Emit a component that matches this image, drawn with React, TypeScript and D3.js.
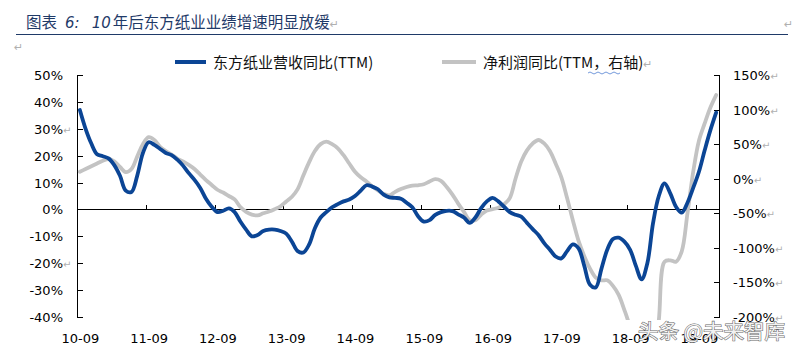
import React from 'react';
import * as d3 from 'd3';

// monthly, 2010-09 .. 2019-12
const revenueYoY = [
  37, 30, 24.5, 20.5, 19.8, 19, 16.5, 12.5, 7, 6.5, 12.5, 21,
  25, 24, 22.5, 21, 20.2, 18.5, 16.3, 13.5, 11, 8, 4, 1,
  -1, -0.5, 0.4, -1, -4.5, -7.5, -10, -9.5, -8, -7.5, -7.5, -8,
  -9, -12, -15.5, -16, -13, -7, -3, -1, 0.8, 2, 3, 3.7,
  5, 7, 9, 8.5, 7.5, 5.5, 4.5, 4.3, 4, 2.5, 0.8, -2.5,
  -4.5, -4, -2, -1, -0.5, -0.6, -1.8, -3, -5, -3, 0.5, 3,
  4.3, 3, 1, -1, -2, -2.7, -5, -7.3, -9.5, -12.5, -15, -17.5,
  -18.2, -15.5, -13, -14.5, -21, -28, -29, -22, -15, -11, -10.5, -12,
  -15, -21, -26, -20, -5, 5, 9.7, 6, 1, -1.2, 2.5, 8,
  14, 22, 29.5, 36,
];

const profitYoY = [
  10, 14, 18, 22, 26, 28.5, 25, 17, 9.5, 14, 32, 50,
  60, 56, 46, 40, 35, 29, 25, 20, 14, 6, -2, -9,
  -16, -20, -25, -30, -41, -48, -52, -53, -50, -47.5, -44, -40,
  -33, -26, -15, 5, 24, 40, 50, 53.5, 50, 44, 34, 22,
  10, 2, -4, -11, -17, -22, -24, -19, -15, -12, -10, -9.5,
  -8, -4, -0.5, -3, -12, -23, -36, -48, -60, -60, -52, -46,
  -44, -42, -37, -28, 0, 25, 41, 51, 56, 51, 40, 22,
  2, -28, -60, -90, -112, -130, -143, -147, -147, -155, -168, -190,
  -215, -250, -270, -280, -270, -205, -120, -118, -120, -105, -50, 10,
  55, 80, 103, 121,
];

const xLabels = ['10-09', '11-09', '12-09', '13-09', '14-09', '15-09', '16-09', '17-09', '18-09', '19-09'];
const leftTicks = [50, 40, 30, 20, 10, 0, -10, -20, -30, -40];
const rightTicks = [150, 100, 50, 0, -50, -100, -150, -200];

const seriesNames = ['东方纸业营收同比(TTM)', '净利润同比(TTM，右轴)'];
const title = '年后东方纸业业绩增速明显放缓';

const W = 795;
const H = 352;
const left = 77;
const right = 719;
const top = 75;
const bottom = 317;

const BLUE = '#0b4595';
const GRAY = '#c3c3c3';
const MARK = '#b0b0b0';
const axisFont = '"DejaVu Sans", Verdana, sans-serif';
const cjkFont = '"Noto Sans CJK SC", "Noto Sans", sans-serif';

export default function App() {
  const x = d3.scaleLinear().domain([0, revenueYoY.length]).range([left, right]);
  const yL = d3.scaleLinear().domain([-40, 50]).range([bottom, top]);
  const yR = d3.scaleLinear().domain([-200, 150]).range([bottom, top]);

  const blueLine = d3.line<number>()
    .x((_, i) => x(i + 0.5))
    .y(d => yL(d))
    .curve(d3.curveCatmullRom.alpha(0.5));
  const grayLine = d3.line<number>()
    .x((_, i) => x(i + 0.5))
    .y(d => yR(d))
    .curve(d3.curveCatmullRom.alpha(0.5));

  const y0 = Math.round(yL(0)) + 0.5;

  return (
    <svg width={W} height={H} style={{ position: 'absolute', left: 0, top: 0, background: '#fff' }}>
      <defs>
        <clipPath id="plot">
          <rect x={left} y={top - 10} width={right - left} height={bottom - top + 13} />
        </clipPath>
      </defs>

      {/* title */}
      <text x={26} y={28} fontFamily={cjkFont} fontSize={15.5} fill="#1f3a68">
        图表
        <tspan dx={8} fontStyle="italic" fontFamily={axisFont} fontSize={15}>6:</tspan>
        <tspan dx={12} fontStyle="italic" fontFamily={axisFont} fontSize={15}>10</tspan>
        <tspan dx={2}>{title}</tspan>
        <tspan fill={MARK} fontSize={11} fontFamily={axisFont}>↵</tspan>
      </text>
      <line x1={16} x2={788} y1={34.5} y2={34.5} stroke="#1f3a68" strokeWidth={1.2} />
      <text x={784} y={28} fill={MARK} fontSize={11} fontFamily={axisFont}>↵</text>
      <text x={14} y={51} fill={MARK} fontSize={11} fontFamily={axisFont}>↵</text>

      {/* legend */}
      <line x1={175} x2={206} y1={62} y2={62} stroke={BLUE} strokeWidth={4} />
      <text x={213} y={68} fontFamily={cjkFont} fontSize={15} fill="#111">{seriesNames[0]}</text>
      <line x1={442} x2={476} y1={62} y2={62} stroke={GRAY} strokeWidth={4} />
      <text x={483} y={68} fontFamily={cjkFont} fontSize={15} fill="#111">
        {seriesNames[1]}
        <tspan fill={MARK} fontSize={11} fontFamily={axisFont}>↵</tspan>
      </text>
      <path d="M588,73 q2,-2 4,0 t4,0 t4,0 t4,0 t4,0 t4,0 t4,0 t4,0" fill="none" stroke="#4f7fd0" strokeWidth={0.8} />

      {/* axes */}
      <g stroke="#000" strokeWidth={1} shapeRendering="crispEdges">
        <line x1={left + 0.5} x2={left + 0.5} y1={top} y2={bottom + 1} />
        <line x1={right + 0.5} x2={right + 0.5} y1={top} y2={bottom + 1} />
        <line x1={left} x2={right + 1} y1={y0} y2={y0} />
        {leftTicks.map(t => (
          <line key={'l' + t} x1={left} x2={left + 6} y1={Math.round(yL(t)) + 0.5} y2={Math.round(yL(t)) + 0.5} />
        ))}
        {rightTicks.map(t => (
          <line key={'r' + t} x1={right - 5} x2={right + 1} y1={Math.round(yR(t)) + 0.5} y2={Math.round(yR(t)) + 0.5} />
        ))}
        {d3.range(1, xLabels.length).map(k => (
          <line key={'x' + k} x1={Math.round(x(k * 12)) + 0.5} x2={Math.round(x(k * 12)) + 0.5} y1={y0 - 5} y2={y0} />
        ))}
      </g>

      {/* tick labels */}
      <g fontFamily={axisFont} fontSize={13} fill="#000">
        {leftTicks.map(t => (
          <text key={'lt' + t} x={63} y={yL(t) + 5} textAnchor="end">{t}%</text>
        ))}
        {rightTicks.map(t => (
          <text key={'rt' + t} x={733} y={yR(t) + 5}>
            {t}%<tspan fill={MARK} fontSize={10}>↵</tspan>
          </text>
        ))}
        {xLabels.map((s, k) => (
          <text key={s} x={x(k * 12 + 0.5) + 0.5} y={343} textAnchor="middle">{s}</text>
        ))}
      </g>
      <text x={63} y={yL(30) + 5} fill={MARK} fontSize={10} fontFamily={axisFont}>↵</text>
      <text x={63} y={yL(-20) + 5} fill={MARK} fontSize={10} fontFamily={axisFont}>↵</text>

      {/* series */}
      <g clipPath="url(#plot)" fill="none" strokeLinejoin="round" strokeLinecap="round">
        <path d={grayLine(profitYoY) ?? ''} stroke={GRAY} strokeWidth={3.8} />
        <path d={blueLine(revenueYoY) ?? ''} stroke={BLUE} strokeWidth={3.8} />
      </g>

      {/* watermark */}
      <text x={638} y={339} fontFamily={cjkFont} fontSize={20.5} fill="#f2f2f2" stroke="#666" strokeWidth={1.1} paintOrder="stroke">
        头条 @未来智库
      </text>
    </svg>
  );
}
